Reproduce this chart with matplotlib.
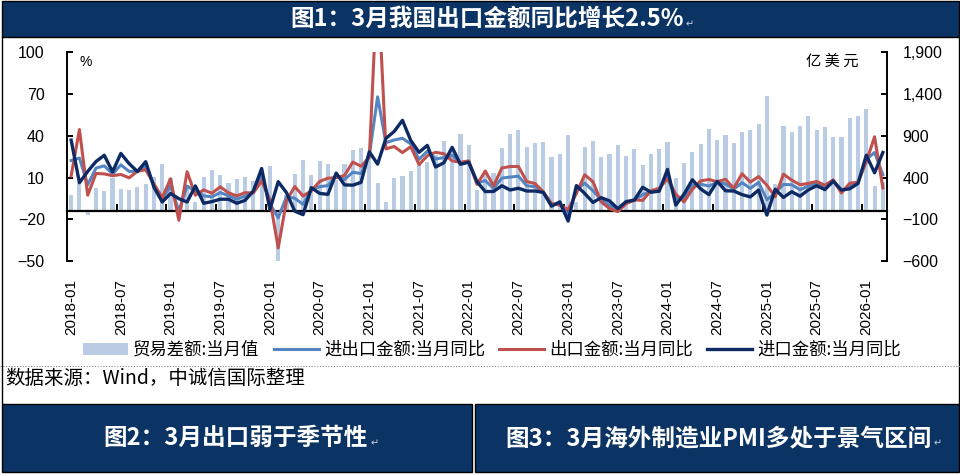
import numpy as np
import matplotlib
matplotlib.use("Agg")
import matplotlib.pyplot as plt
from matplotlib.patches import Rectangle, Patch
from matplotlib.lines import Line2D
from matplotlib.ticker import FuncFormatter

plt.rcParams['font.family'] = ['Liberation Sans', 'Noto Sans CJK SC', 'DejaVu Sans']
CJK = ['Noto Sans CJK SC', 'DejaVu Sans']

# 2018-01 .. 2026-03, monthly
months = [f"{y}-{m:02d}" for y in range(2018, 2027) for m in range(1, 13)][:99]

# 贸易差额:当月值 (亿美元)
trade_balance = [
    190, 330, -50, 270, 240, 400, 265, 250, 290, 320, 410, 560,
    390, 40, 300, 112, 404, 492, 432, 332, 380, 404, 360, 452,
    540, -610, 190, 444, 612, 432, 600, 564, 370, 564, 728, 756,
    690, 340, 112, 393, 418, 478, 552, 584, 667, 840, 717, 920,
    790, 252, 440, 460, 752, 920, 968, 768, 812, 820, 644, 684,
    912, 112, 768, 832, 644, 684, 792, 660, 744, 552, 684, 744,
    824, 390, 570, 702, 802, 982, 850, 910, 810, 950, 970, 1042,
    1378, 320, 1018, 950, 1018, 1138, 970, 1002, 882, 882, 1110, 1138,
    1222, 300, 350,
]
# 进出口金额:当月同比 (%)
total_yoy = [
    22.2, 24.0, 4.8, 16.8, 18.4, 12.5, 19.1, 14.4, 14.4, 18.2, 4.3, -5.8,
    4.0, -13.9, 3.8, 0.3, -3.2, -3.9, -0.8, -3.1, -5.6, -3.4, -0.5, 11.6,
    -9.0, -19.0, -3.8, -4.9, -9.3, 1.5, 3.4, 4.2, 11.3, 8.5, 13.8, 12.9,
    26.0, 68.0, 35.0, 37.0, 38.2, 34.2, 23.1, 28.9, 23.3, 24.3, 26.0, 20.3,
    21.5, 6.0, 7.8, 2.1, 9.6, 10.3, 11.0, 4.1, 3.4, -0.4, -9.5, -8.9,
    -17.0, 1.0, 6.0, 0.5, -6.2, -10.0, -13.6, -8.2, -6.2, -2.3, 0.0, 1.4,
    12.0, -5.0, -5.1, 4.4, 5.2, 3.9, 6.5, 5.4, 1.6, 6.3, 2.2, 6.5,
    -6.0, -1.0, 5.0, 4.8, 1.2, 3.9, 6.0, 3.2, 8.0, -0.1, 4.3, 6.2,
    23.0, 28.0, 12.0,
]
# 出口金额:当月同比 (%)
export_yoy = [
    11.1, 44.5, -2.7, 12.9, 12.6, 11.3, 12.2, 9.8, 14.5, 15.6, 5.4, -4.4,
    9.1, -20.7, 14.2, -2.7, 1.1, -1.3, 3.3, -1.0, -3.2, -0.9, -1.1, 7.6,
    -6.0, -40.6, -6.6, 3.5, -3.3, 0.5, 7.2, 9.5, 9.9, 11.4, 21.1, 18.1,
    24.5, 154.9, 30.6, 32.3, 27.9, 32.2, 19.3, 25.6, 28.1, 27.1, 22.0, 20.9,
    22.0, 5.0, 14.7, 3.9, 16.9, 17.9, 18.0, 7.1, 5.7, -0.3, -8.7, -9.9,
    -13.0, -1.5, 12.0, 7.0, -7.5, -12.4, -14.5, -8.8, -6.2, -6.4, 0.5, 2.3,
    9.0, -2.0, -7.5, 1.5, 7.6, 8.6, 7.0, 8.7, 2.4, 12.7, 6.7, 10.7,
    4.5, -3.9, 12.4, 8.1, 4.8, 5.8, 7.2, 4.4, 8.3, -1.1, 5.9, 6.6,
    21.3, 39.3, 2.5,
]
# 进口金额:当月同比 (%)
import_yoy = [
    36.9, 6.3, 14.4, 21.5, 26.0, 14.1, 27.3, 20.0, 14.3, 21.4, 3.0, -7.6,
    -1.5, -5.2, -7.6, 4.0, -8.5, -7.3, -5.6, -5.6, -8.5, -6.4, 0.3, 16.5,
    -13.0, 7.0, -0.9, -14.2, -16.7, 2.7, -1.4, -2.1, 13.2, 4.7, 4.5, 6.5,
    28.5, 19.6, 38.1, 43.1, 51.1, 36.7, 28.1, 33.1, 17.6, 20.6, 31.7, 19.5,
    21.0, 7.0, -0.1, 0.0, 4.1, 1.0, 2.3, 0.3, 0.3, -0.7, -10.6, -7.5,
    -21.3, 4.2, -1.4, -7.9, -4.5, -6.8, -12.4, -7.3, -6.2, 3.0, -0.6, 0.2,
    15.8, -9.8, -1.9, 8.4, 1.8, -2.3, 7.2, 0.5, 0.3, -2.3, -3.9, 1.0,
    -17.0, 1.6, -4.3, -0.2, -3.4, 1.1, 4.1, 1.3, 7.4, 1.0, 1.9, 5.7,
    26.0, 13.4, 28.0,
]

labels = ['贸易差额:当月值', '进出口金额:当月同比', '出口金额:当月同比', '进口金额:当月同比']
c_bar, c_total, c_exp, c_imp = '#b9cce4', '#5585c0', '#c0504d', '#0e2a64'
navy = '#0b3464'

W, H = 960, 474
fig = plt.figure(figsize=(W / 100, H / 100), dpi=100)


def fx(px):
    return px / W


def fy(py):
    return 1 - py / H


def bar_box(x0, y0, x1, y1):
    fig.add_artist(Rectangle((fx(x0), fy(y1)), fx(x1) - fx(x0), fy(y0) - fy(y1),
                             transform=fig.transFigure, facecolor=navy,
                             edgecolor='black', lw=1.0))


def header(xc, yc, s, size):
    t = fig.text(fx(xc), fy(yc), s, ha='center', va='center', color='white',
                 fontsize=size, fontweight='bold', family=CJK)
    fig.canvas.draw()
    bb = t.get_window_extent()
    fig.text(bb.x1 / W + 0.002, bb.y0 / H + 0.004, '↵', ha='left', va='bottom',
             color='#c8d0dc', fontsize=7, family=['DejaVu Sans'])


# frame of the page block
for xs, ys in [([1.5, 1.5], [37, 403]), ([958.5, 958.5], [37, 403])]:
    fig.add_artist(Line2D([fx(v) for v in xs], [fy(v) for v in ys], color='black',
                          lw=1.0, transform=fig.transFigure))
fig.add_artist(Line2D([fx(0), fx(960)], [fy(366), fy(366)], color='#888888', lw=0.8,
                      ls=(0, (1, 1.5)), transform=fig.transFigure))

bar_box(1.5, 1.5, 958.5, 37)
bar_box(1.5, 404, 472, 472)
bar_box(475, 404, 958.5, 472)
header(487, 19, '图1：3月我国出口金额同比增长2.5%', 17)
header(236, 438, '图2：3月出口弱于季节性', 17)
header(718, 438, '图3：3月海外制造业PMI多处于景气区间', 17)

rect = [fx(67), fy(261), fx(887) - fx(67), (261 - 52.3) / H]
ax_bar = fig.add_axes(rect)
ax = fig.add_axes(rect)
ax.patch.set_visible(False)

x = np.arange(len(months))

# bars on the right axis
ax_bar.bar(x, trade_balance, width=0.5, color=c_bar, zorder=1)
ax_bar.set_xlim(-0.5, len(months) - 0.5)
ax_bar.set_ylim(-600, 1900)
ax_bar.set_yticks(np.arange(-600, 1901, 500))
ax_bar.yaxis.tick_right()
ax_bar.yaxis.set_major_formatter(FuncFormatter(lambda v, p: f'{v:,.0f}'.replace('-', '\u2212')))
for s in ['left', 'top']:
    ax_bar.spines[s].set_visible(False)
ax_bar.spines['bottom'].set_position(('data', 0))
ax_bar.spines['bottom'].set_linewidth(1.6)
ax_bar.spines['right'].set_linewidth(1.4)
ax_bar.set_xticks(np.arange(-0.5, len(months) - 1, 6))
ax_bar.tick_params(axis='x', direction='in', length=5, width=1.4, labelbottom=False)
ax_bar.tick_params(axis='y', direction='in', length=4, width=1.4, pad=11, labelsize=11.5)

# lines on the left axis
ax.plot(x, total_yoy, color=c_total, lw=2.2, solid_joinstyle='round', zorder=3)
ax.plot(x, export_yoy, color=c_exp, lw=2.2, solid_joinstyle='round', zorder=4)
ax.plot(x, import_yoy, color=c_imp, lw=2.4, solid_joinstyle='round', zorder=5)
ax.set_xlim(-0.5, len(months) - 0.5)
ax.set_ylim(-50, 100)
ax.set_yticks(np.arange(-50, 101, 30))
ax.yaxis.set_major_formatter(FuncFormatter(lambda v, p: f'{v:.0f}'.replace('-', '\u2212')))
for s in ['right', 'top', 'bottom']:
    ax.spines[s].set_visible(False)
ax.spines['left'].set_linewidth(1.4)
ax.set_xticks(x[::6])
ax.set_xticklabels(months[::6], rotation=90)
ax.tick_params(axis='x', length=0, pad=13, labelsize=11)
ax.tick_params(axis='y', direction='in', length=4, width=1.4, pad=16, labelsize=11.5)

fig.text(fx(79), fy(62), '%', fontsize=10, va='center', ha='left')
fig.text(fx(832), fy(61), '亿 美 元', fontsize=11, va='center', ha='center', family=CJK)

handles = [Patch(facecolor=c_bar), Line2D([], [], color=c_total, lw=2.2),
           Line2D([], [], color=c_exp, lw=2.2), Line2D([], [], color=c_imp, lw=2.4)]
fig.legend(handles, labels, loc='center', bbox_to_anchor=(fx(492), fy(350)), ncol=4,
           frameon=False, prop={'family': CJK, 'size': 12.5}, handlelength=2.6,
           handletextpad=0.3, columnspacing=0.8, borderaxespad=0)

fig.text(fx(5), fy(378), '数据来源：Wind，中诚信国际整理', fontsize=14, va='center',
         ha='left', family=CJK)

fig.savefig('out.png', dpi=100)
